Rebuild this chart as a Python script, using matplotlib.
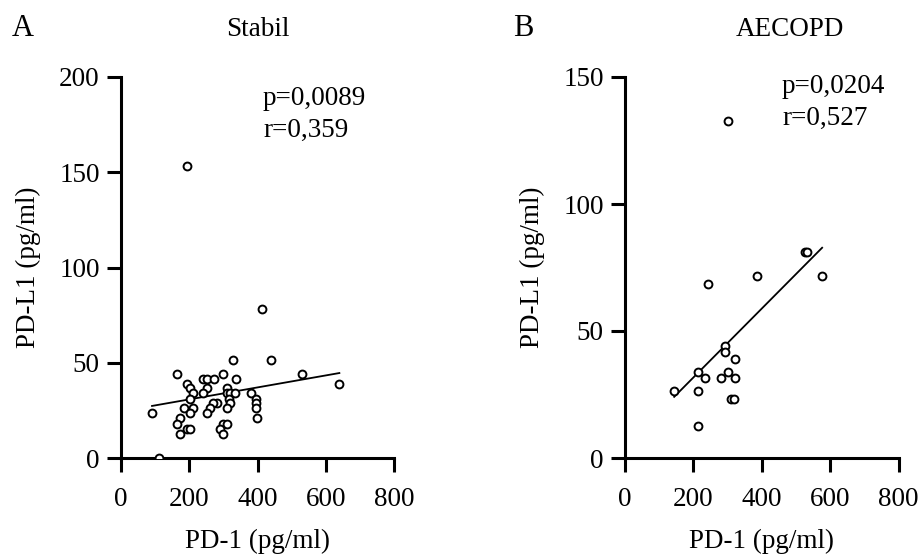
import numpy as np
import matplotlib
matplotlib.use('Agg')
import matplotlib.pyplot as plt

plt.rcParams['font.family'] = ['Liberation Serif', 'DejaVu Serif']
plt.rcParams['font.size'] = 19.5

# Stabil
stabil_pd1 = [92, 113, 165, 194, 204, 213, 204, 184, 213, 204, 175, 165, 175, 194, 204,
              242, 252, 273, 252, 242, 300, 329, 440, 337, 310, 310, 320, 335, 318,
              281, 271, 262, 252, 320, 310, 300, 310, 291, 300,
              380, 395, 395, 395, 399, 530, 639, 195, 414]
stabil_pdl1 = [23.5, 0, 44, 39, 36.7, 34, 31, 26, 26, 23.5, 21, 18, 12.8, 15.3, 15.3,
               41.6, 41.6, 41.6, 36.7, 34, 44, 51.6, 51.6, 41.6, 36.7, 34, 34, 34, 31,
               28.8, 28.8, 26, 23.5, 28.8, 26, 18, 18, 15.3, 12.8,
               34, 31, 28.8, 26, 21, 44, 39, 153.3, 78.4]

# AECOPD
aecopd_pd1 = [145, 215, 215, 215, 235, 293, 293, 322, 303, 283, 322, 312, 320,
              245, 387, 528, 533, 577, 303]
aecopd_pdl1 = [26.2, 34, 26.2, 12.6, 31.3, 43.9, 41.6, 39.1, 34, 31.3, 31.3, 23.3, 23.3,
               68.7, 71.5, 81, 81, 71.5, 132.8]

panels = [
    ('Stabil', stabil_pd1, stabil_pdl1, 200, 'p=0,0089\nr=0,359', (0.52, 0.977)),
    ('AECOPD', aecopd_pd1, aecopd_pdl1, 150, 'p=0,0204\nr=0,527', (0.575, 1.008)),
]

fig = plt.figure(figsize=(9.23, 5.57), dpi=100)
lefts = [120.5 / 923, 624.5 / 923]

for (title, x, y, ymax, stats, pos), left in zip(panels, lefts):
    ax = fig.add_axes([left, 99 / 557, 274 / 923, 381 / 557])
    ax.scatter(x, y, s=32, facecolors='white', edgecolors='black', linewidths=1.4, zorder=3)
    # linear regression line
    k, b = np.polyfit(x, y, 1)
    xs = np.array([min(x), max(x)])
    ax.plot(xs, k * xs + b, color='black', lw=1.3, zorder=2)

    ax.set_xlim(0, 800)
    ax.set_ylim(0, ymax)
    ax.set_xticks([0, 200, 400, 600, 800])
    ax.set_yticks(np.arange(0, ymax + 1, 50))
    for s in ['top', 'right']:
        ax.spines[s].set_visible(False)
    for s in ['left', 'bottom']:
        ax.spines[s].set_linewidth(2.2)
    ax.tick_params(length=10, width=2.2)
    ax.tick_params(axis='x', pad=11)
    ax.tick_params(axis='y', pad=5)
    ax.set_xlabel('PD-1 (pg/ml)', labelpad=12)
    ax.set_ylabel('PD-L1 (pg/ml)', labelpad=13)
    ax.text(pos[0], pos[1], stats, transform=ax.transAxes, va='top', ha='left',
            linespacing=1.35)

fig.text(12 / 923, 1 - 28 / 557, 'A', fontsize=22, va='center', ha='left')
fig.text(513 / 923, 1 - 28 / 557, 'B', fontsize=22, va='center', ha='left')
fig.text(257.5 / 923, 1 - 30 / 557, 'Stabil', va='center', ha='center')
fig.text(790 / 923, 1 - 30 / 557, 'AECOPD', va='center', ha='center')

fig.savefig('out.png', dpi=100)
